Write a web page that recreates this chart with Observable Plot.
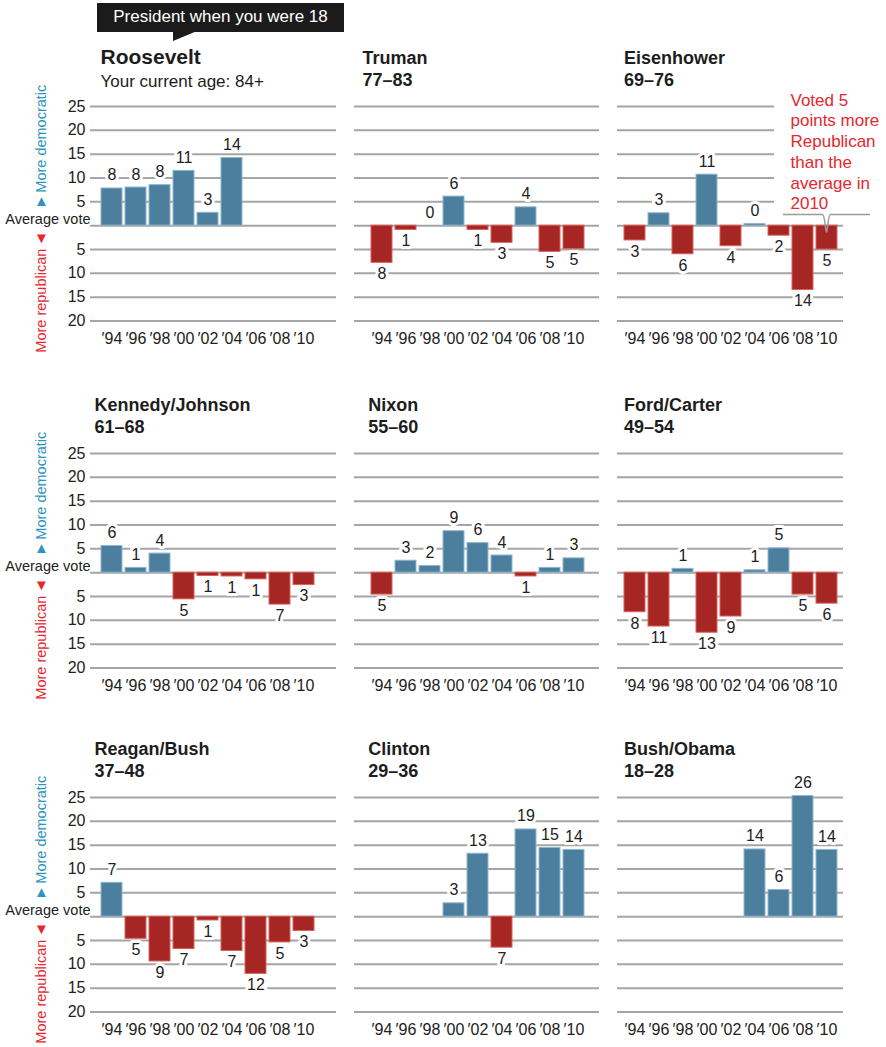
<!DOCTYPE html>
<html><head><meta charset="utf-8">
<script src="https://cdn.jsdelivr.net/npm/d3@7"></script>
<script src="https://cdn.jsdelivr.net/npm/@observablehq/plot@0.6"></script>
<style>
body{margin:0;background:#fff;overflow:hidden;font-family:"Liberation Sans",Arial,sans-serif}
#page{position:relative;width:886px;height:1047px}
.panel{position:absolute}
#callout{position:absolute;left:97px;top:3px;width:247px;height:29px;background:#1b1b1b;color:#fff;font-size:17px;line-height:27px;text-align:center;z-index:2}
#pointer{position:absolute;left:173px;top:31px;width:0;height:0;border-top:10px solid #1b1b1b;border-right:24px solid transparent;z-index:2}
</style></head>
<body><div id="page"><div id="callout">President when you were 18</div><div id="pointer"></div></div>
<script>
// ---- data ----
const years = ["′94","′96","′98","′00","′02","′04","′06","′08","′10"];
const presidents = ["Roosevelt","Truman","Eisenhower","Kennedy/Johnson","Nixon","Ford/Carter","Reagan/Bush","Clinton","Bush/Obama"];
const ages = ["84+","77–83","69–76","61–68","55–60","49–54","37–48","29–36","18–28"];

const roosevelt  = [7.8, 8.0, 8.5, 11.5, 2.7, 14.2, null, null, null];
const truman     = [-7.8, -0.9, 0, 6.1, -0.9, -3.6, 3.85, -5.5, -4.9];
const eisenhower = [-3.1, 2.6, -6.0, 10.7, -4.3, 0.35, -2.1, -13.5, -5.0];
const kennedy    = [5.6, 1.0, 4.0, -5.6, -0.7, -0.8, -1.4, -6.7, -2.6];
const nixon      = [-4.6, 2.5, 1.4, 8.7, 6.2, 3.6, -0.8, 1.0, 3.0];
const fordCarter = [-8.3, -11.3, 0.8, -12.6, -9.2, 0.5, 5.1, -4.6, -6.5];
const reaganBush = [7.1, -4.65, -9.4, -6.8, -0.8, -7.2, -12.0, -5.4, -3.0];
const clinton    = [null, null, null, 2.8, 13.2, -6.5, 18.3, 14.4, 14.0];
const bushObama  = [null, null, null, null, null, 14.1, 5.6, 25.3, 14.0];

const rooseveltLabels  = [8, 8, 8, 11, 3, 14, null, null, null];
const trumanLabels     = [8, 1, 0, 6, 1, 3, 4, 5, 5];
const eisenhowerLabels = [3, 3, 6, 11, 4, 0, 2, 14, 5];
const kennedyLabels    = [6, 1, 4, 5, 1, 1, 1, 7, 3];
const nixonLabels      = [5, 3, 2, 9, 6, 4, 1, 1, 3];
const fordCarterLabels = [8, 11, 1, 13, 9, 1, 5, 5, 6];
const reaganBushLabels = [7, 5, 9, 7, 1, 7, 12, 5, 3];
const clintonLabels    = [null, null, null, 3, 13, 7, 19, 15, 14];
const bushObamaLabels  = [null, null, null, null, null, 14, 6, 26, 14];

const yTicks = [-20, -15, -10, -5, 0, 5, 10, 15, 20, 25];
const annotation = "Voted 5\npoints more\nRepublican\nthan the\naverage in\n2010";

const seriesValues = [roosevelt, truman, eisenhower, kennedy, nixon, fordCarter, reaganBush, clinton, bushObama];
const seriesLabels = [rooseveltLabels, trumanLabels, eisenhowerLabels, kennedyLabels, nixonLabels, fordCarterLabels, reaganBushLabels, clintonLabels, bushObamaLabels];

// ---- layout / style ----
const FONT = "Liberation Sans, Arial, Helvetica, sans-serif";
const BLUE = "#4c7e9d", BLUE_EDGE = "#8db7d0";
const RED = "#a52622", RED_EDGE = "#d8605b";
const GRID = "#a5a5a5";
const DEM = "#2b95bf", REP = "#e8262d";
const NUM = 16;
const colLeft = [0, 340, 606], colWidth = [340, 266, 280];
const mLeft = [90, 14, 11], mRight = [4, 7, 43];
const inL = [10, 16, 5.7], inR = [20, 13.5, 5.3];
const rowGrid = [105.5, 453, 797];
const titleDx = [10, 8, 6.5, 4, 13.8, 6.5, 4, 13.8, 6.5];
const MT = 70, FH = 214.5, MB = 34;
const halo = {stroke: "white", strokeWidth: 6, paintOrder: "stroke", strokeLinejoin: "round"};

const page = document.getElementById("page");

seriesValues.forEach((vals, i) => {
  const r = Math.floor(i / 3), c = i % 3;
  const data = years.map((x, k) => ({x, v: vals[k], lab: seriesLabels[i][k]})).filter(d => d.v != null);
  const marks = [];
  if (i === 2) {
    marks.push(Plot.ruleY(yTicks.filter(t => t > 0), {stroke: GRID, strokeWidth: 2, insetRight: 69}));
    marks.push(Plot.ruleY(yTicks.filter(t => t <= 0), {stroke: GRID, strokeWidth: 2}));
  } else {
    marks.push(Plot.ruleY(yTicks, {stroke: GRID, strokeWidth: 2}));
  }
  marks.push(Plot.barY(data, {x: "x", y: "v", fill: d => d.v >= 0 ? BLUE : RED, stroke: d => d.v >= 0 ? BLUE_EDGE : RED_EDGE, strokeWidth: 1}));
  marks.push(Plot.text(data.filter(d => d.v >= 0), {x: "x", y: "v", text: "lab", lineAnchor: "bottom", dy: -8, fill: "#222", fontSize: NUM, ...halo}));
  marks.push(Plot.text(data.filter(d => d.v < 0), {x: "x", y: "v", text: "lab", lineAnchor: "top", dy: 5, fill: "#222", fontSize: NUM, ...halo}));
  marks.push(Plot.axisX({tickSize: 0, tickPadding: 12, label: null, fontSize: NUM}));
  if (i === 0) {
    marks.push(Plot.text(["Roosevelt"], {frameAnchor: "top-left", dx: titleDx[i], dy: -43, lineAnchor: "bottom", fontWeight: "bold", fontSize: 21, fill: "#1d1d1d"}));
    marks.push(Plot.text(["Your current age: " + ages[i]], {frameAnchor: "top-left", dx: titleDx[i], dy: -19.5, lineAnchor: "bottom", fontSize: 17, fill: "#1d1d1d"}));
  } else {
    marks.push(Plot.text([presidents[i] + "\n" + ages[i]], {frameAnchor: "top-left", dx: titleDx[i], dy: -20.5, lineAnchor: "bottom", lineHeight: 1.2, fontWeight: "bold", fontSize: 18, fill: "#1d1d1d"}));
  }
  if (c === 0) {
    marks.push(Plot.axisY(yTicks.filter(t => t !== 0), {tickSize: 0, tickPadding: 5, tickFormat: d => Math.abs(d), label: null, fontSize: NUM}));
    marks.push(Plot.text(["Average vote"], {y: [0], frameAnchor: "left", textAnchor: "end", lineAnchor: "bottom", dy: -2, fill: "#222", fontSize: 14.5, ...halo, strokeWidth: 4}));
    marks.push(Plot.text(["More democratic"], {y: [0], frameAnchor: "left", dx: -49, dy: -33, rotate: -90, textAnchor: "start", lineAnchor: "middle", fill: DEM, fontSize: 14.5}));
    marks.push(Plot.text(["More republican"], {y: [0], frameAnchor: "left", dx: -49, dy: 23, rotate: -90, textAnchor: "end", lineAnchor: "middle", fill: REP, fontSize: 14.5}));
    marks.push(Plot.text(["▲"], {y: [0], frameAnchor: "left", dx: -49, dy: -24, textAnchor: "middle", lineAnchor: "middle", fill: DEM, fontSize: 15}));
    marks.push(Plot.text(["▼"], {y: [0], frameAnchor: "left", dx: -49, dy: 13, textAnchor: "middle", lineAnchor: "middle", fill: REP, fontSize: 15}));
  }
  if (i === 2) {
    marks.push(Plot.text([annotation], {frameAnchor: "top-left", dx: 173, dy: -15.5, lineAnchor: "top", textAnchor: "start", lineHeight: 1.22, fontSize: 17, fill: REP}));
  }
  const W = colWidth[c];
  const chart = Plot.plot({
    width: W, height: MT + FH + MB,
    marginLeft: mLeft[c], marginRight: mRight[c], marginTop: MT, marginBottom: MB,
    style: {fontFamily: FONT, fontSize: NUM + "px", color: "#222", background: "transparent", overflow: "visible"},
    x: {type: "band", domain: years, paddingInner: 0.11, paddingOuter: 0, insetLeft: inL[c], insetRight: inR[c]},
    y: {domain: [-20, 25], axis: null},
    marks
  });
  chart.classList.add("panel");
  chart.style.left = colLeft[c] + "px";
  chart.style.top = (rowGrid[r] - MT) + "px";
  page.appendChild(chart);

  if (i === 2) {
    // leader line from the annotation to the 2010 bar, placed with the chart's scales
    const xs = chart.scale("x"), ys = chart.scale("y");
    const bw = xs.bandwidth;
    const cx = xs.apply(years[8]) + bw / 2;
    const yl = ys.apply(2.25), yb = ys.apply(-1.5);
    const x0 = xs.apply(years[7]) - 9;
    const x1 = W - mRight[c] + 27;
    d3.select(chart).append("path")
      .attr("fill", "none").attr("stroke", "#9a9a9a").attr("stroke-width", 1.5)
      .attr("d", `M${x0},${yl}H${cx - 4}C${cx - 1.5},${yl} ${cx - 1},${yb} ${cx},${yb}C${cx + 1},${yb} ${cx + 1.5},${yl} ${cx + 4},${yl}H${x1}`);
  }
});
</script>
</body></html>
